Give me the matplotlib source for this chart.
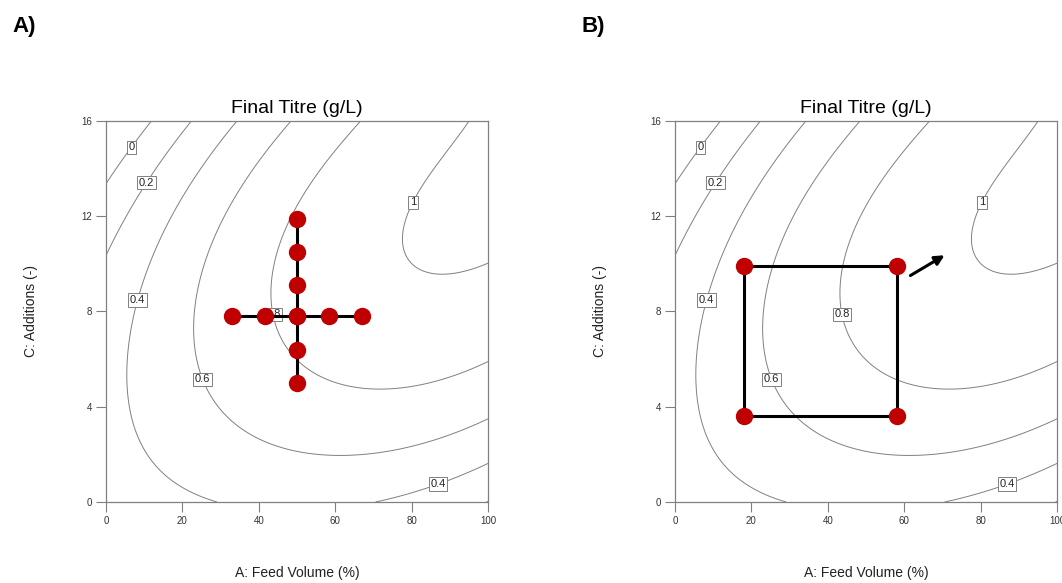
import numpy as np
import matplotlib.pyplot as plt

plt.rcParams["font.family"] = ["Liberation Sans", "DejaVu Sans"]

# ------------------------------------------------------------------ data
# Response surface for final titre in coded units:
#   a = (feed volume - 50) / 50,  c = (additions - 8) / 8
# each term is (coefficient, power of a, power of c)
TITRE_TERMS = [
    (0.84701, 0, 0), (-0.33392, 0, 2), (0.01375, 0, 4),
    (0.10088, 0, 1), (-0.00807, 0, 3),
    (0.33364, 1, 0), (0.26634, 1, 1), (-0.01960, 1, 2), (0.03969, 1, 3),
    (-0.24730, 2, 0), (-0.02214, 2, 1), (0.02592, 2, 2),
    (-0.01779, 3, 0), (0.03691, 3, 1),
    (0.00806, 4, 0),
]
levels = [0, 0.2, 0.4, 0.6, 0.8, 1.0]
label_pos = [(5.8, 15.0), (9.7, 13.5), (7.9, 8.5), (24.6, 5.1), (44.2, 7.9),
             (78.8, 12.7), (86.4, 1.0)]

# A) one-factor-at-a-time runs around the centre point
centre = (50, 7.8)
ofat_feed = [33, 41.5, 50, 58.5, 67]
ofat_additions = [5.0, 6.4, 7.8, 9.1, 10.5, 11.9]

# B) factorial corners and direction of improvement
box_feed = [18, 58]
box_additions = [3.6, 9.9]
arrow_start = (61, 9.45)
arrow_end = (71.2, 10.42)

RED = "#c00000"
GREY = "#808080"


def titre(feed, additions):
    a = (feed - 50) / 50
    c = (additions - 8) / 8
    return sum(k * a ** i * c ** j for k, i, j in TITRE_TERMS)


# ------------------------------------------------------------------ plot
X, Y = np.meshgrid(np.linspace(0, 100, 301), np.linspace(0, 16, 301))
Z = titre(X, Y)

fig = plt.figure(figsize=(10.62, 5.83), dpi=100)
axes = [fig.add_axes([0.0998, 0.139, 0.3597, 0.6535]),
        fig.add_axes([0.6356, 0.139, 0.3597, 0.6535])]

for ax, tag in zip(axes, ["A)", "B)"]):
    cs = ax.contour(X, Y, Z, levels=levels, colors=GREY, linewidths=0.7)
    labels = ax.clabel(cs, inline=False, fontsize=8, fmt=lambda v: f"{v:g}",
                       manual=label_pos, colors="#222222")
    for t in labels:
        t.set_rotation(0)
        t.set_bbox(dict(boxstyle="square,pad=0.15", fc="white", ec=GREY, lw=0.7))
    ax.set_xlim(0, 100)
    ax.set_ylim(0, 16)
    ax.set_xticks([0, 20, 40, 60, 80, 100])
    ax.set_yticks([0, 4, 8, 12, 16])
    ax.tick_params(direction="out", length=7, width=0.8, color=GREY,
                   labelsize=7, labelcolor="#333333", pad=3)
    for s in ax.spines.values():
        s.set_color(GREY)
        s.set_linewidth(0.9)
    ax.set_title("Final Titre (g/L)", fontsize=14, pad=6)
    ax.set_xlabel("A: Feed Volume (%)", fontsize=10, labelpad=29, color="#222222")
    ax.set_ylabel("C: Additions (-)", fontsize=10, labelpad=31, color="#222222")
    bb = ax.get_position()
    fig.text(bb.x0 - 0.088, 0.955, tag, fontsize=16, fontweight="bold", va="center")

# A) cross of single-factor runs
ax = axes[0]
ax.plot([min(ofat_feed), max(ofat_feed)], [centre[1]] * 2, color="black", lw=2.2, zorder=4)
ax.plot([centre[0]] * 2, [min(ofat_additions), max(ofat_additions)], color="black", lw=2.2, zorder=4)
ax.plot(ofat_feed, [centre[1]] * len(ofat_feed), "o", color=RED, ms=11.5, zorder=5)
ax.plot([centre[0]] * len(ofat_additions), ofat_additions, "o", color=RED, ms=11.5, zorder=5)

# B) two-level factorial box plus steepest-ascent arrow
ax = axes[1]
corners_x = [box_feed[0], box_feed[1], box_feed[1], box_feed[0]]
corners_y = [box_additions[0], box_additions[0], box_additions[1], box_additions[1]]
ax.plot(corners_x + corners_x[:1], corners_y + corners_y[:1], color="black", lw=2.2, zorder=4)
ax.plot(corners_x, corners_y, "o", color=RED, ms=11.5, zorder=5, ls="none")
ax.annotate("", xy=arrow_end, xytext=arrow_start,
            arrowprops=dict(arrowstyle="-|>", color="black", lw=2.2, mutation_scale=14))

fig.savefig("out.png", dpi=100)
